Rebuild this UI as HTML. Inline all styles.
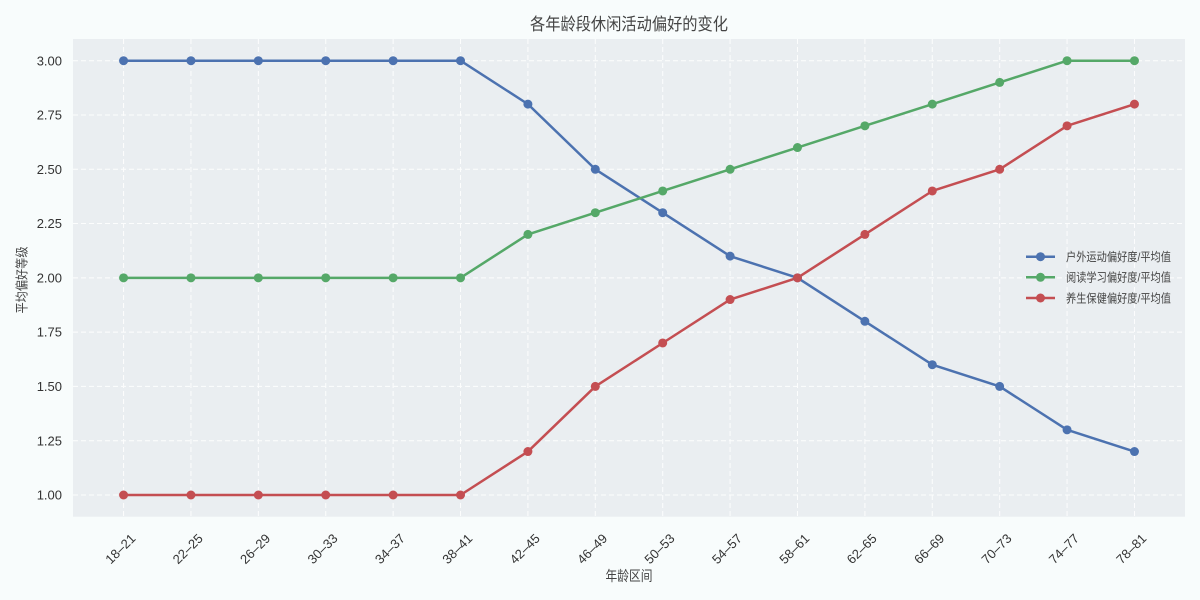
<!DOCTYPE html>
<html>
<head>
<meta charset="utf-8">
<style>
html,body{margin:0;padding:0;background:#f8fcfc;}
svg{display:block;}
text{font-family:"Liberation Sans","Noto Sans CJK SC",sans-serif;}
</style>
</head>
<body>
<svg width="1200" height="600" viewBox="0 0 1200 600" xmlns="http://www.w3.org/2000/svg">
<rect x="0" y="0" width="1200" height="600" fill="#f8fcfc"/>
<rect x="73" y="39" width="1112" height="477.7" fill="#eaeef1"/>
<g stroke="#ffffff" stroke-width="1" stroke-dasharray="5,3" opacity="0.9">
<line x1="73" x2="1185" y1="60.7" y2="60.7"/>
<line x1="73" x2="1185" y1="114.99" y2="114.99"/>
<line x1="73" x2="1185" y1="169.28" y2="169.28"/>
<line x1="73" x2="1185" y1="223.56" y2="223.56"/>
<line x1="73" x2="1185" y1="277.85" y2="277.85"/>
<line x1="73" x2="1185" y1="332.13" y2="332.13"/>
<line x1="73" x2="1185" y1="386.42" y2="386.42"/>
<line x1="73" x2="1185" y1="440.7" y2="440.7"/>
<line x1="73" x2="1185" y1="495" y2="495"/>
<line y1="39" y2="516.7" x1="123.55" x2="123.55"/>
<line y1="39" y2="516.7" x1="190.94" x2="190.94"/>
<line y1="39" y2="516.7" x1="258.34" x2="258.34"/>
<line y1="39" y2="516.7" x1="325.73" x2="325.73"/>
<line y1="39" y2="516.7" x1="393.13" x2="393.13"/>
<line y1="39" y2="516.7" x1="460.52" x2="460.52"/>
<line y1="39" y2="516.7" x1="527.91" x2="527.91"/>
<line y1="39" y2="516.7" x1="595.31" x2="595.31"/>
<line y1="39" y2="516.7" x1="662.7" x2="662.7"/>
<line y1="39" y2="516.7" x1="730.1" x2="730.1"/>
<line y1="39" y2="516.7" x1="797.49" x2="797.49"/>
<line y1="39" y2="516.7" x1="864.88" x2="864.88"/>
<line y1="39" y2="516.7" x1="932.28" x2="932.28"/>
<line y1="39" y2="516.7" x1="999.67" x2="999.67"/>
<line y1="39" y2="516.7" x1="1067.07" x2="1067.07"/>
<line y1="39" y2="516.7" x1="1134.46" x2="1134.46"/>
</g>

<!-- Y tick labels -->
<g font-size="13" fill="#333" text-anchor="end">
<text x="62" y="65.3">3.00</text>
<text x="62" y="119.6">2.75</text>
<text x="62" y="173.9">2.50</text>
<text x="62" y="228.2">2.25</text>
<text x="62" y="282.4">2.00</text>
<text x="62" y="336.7">1.75</text>
<text x="62" y="391">1.50</text>
<text x="62" y="445.3">1.25</text>
<text x="62" y="499.6">1.00</text>
</g>

<!-- X tick labels -->
<g font-size="13" fill="#333" text-anchor="middle">
<text transform="translate(123.55,552) rotate(-45)">18–21</text>
<text transform="translate(190.94,552) rotate(-45)">22–25</text>
<text transform="translate(258.34,552) rotate(-45)">26–29</text>
<text transform="translate(325.73,552) rotate(-45)">30–33</text>
<text transform="translate(393.13,552) rotate(-45)">34–37</text>
<text transform="translate(460.52,552) rotate(-45)">38–41</text>
<text transform="translate(527.91,552) rotate(-45)">42–45</text>
<text transform="translate(595.31,552) rotate(-45)">46–49</text>
<text transform="translate(662.7,552) rotate(-45)">50–53</text>
<text transform="translate(730.1,552) rotate(-45)">54–57</text>
<text transform="translate(797.49,552) rotate(-45)">58–61</text>
<text transform="translate(864.88,552) rotate(-45)">62–65</text>
<text transform="translate(932.28,552) rotate(-45)">66–69</text>
<text transform="translate(999.67,552) rotate(-45)">70–73</text>
<text transform="translate(1067.07,552) rotate(-45)">74–77</text>
<text transform="translate(1134.46,552) rotate(-45)">78–81</text>
</g>

<!-- Series -->
<g fill="none" stroke-width="2.5" stroke-linejoin="round" stroke-linecap="round">
<polyline stroke="#4c72b0" points="123.55,60.7 190.94,60.7 258.34,60.7 325.73,60.7 393.13,60.7 460.52,60.7 527.91,104.13 595.31,169.28 662.7,212.7 730.1,256.13 797.49,277.85 864.88,321.27 932.28,364.7 999.67,386.42 1067.07,429.84 1134.46,451.56"/>
<polyline stroke="#55a868" points="123.55,277.85 190.94,277.85 258.34,277.85 325.73,277.85 393.13,277.85 460.52,277.85 527.91,234.42 595.31,212.7 662.7,190.99 730.1,169.28 797.49,147.56 864.88,125.85 932.28,104.13 999.67,82.42 1067.07,60.7 1134.46,60.7"/>
<polyline stroke="#c44e52" points="123.55,495 190.94,495 258.34,495 325.73,495 393.13,495 460.52,495 527.91,451.56 595.31,386.42 662.7,342.99 730.1,299.56 797.49,277.85 864.88,234.42 932.28,190.99 999.67,169.28 1067.07,125.85 1134.46,104.13"/>
</g>
<g fill="#4c72b0">
<circle cx="123.55" cy="60.7" r="4.5"/><circle cx="190.94" cy="60.7" r="4.5"/><circle cx="258.34" cy="60.7" r="4.5"/><circle cx="325.73" cy="60.7" r="4.5"/><circle cx="393.13" cy="60.7" r="4.5"/><circle cx="460.52" cy="60.7" r="4.5"/><circle cx="527.91" cy="104.13" r="4.5"/><circle cx="595.31" cy="169.28" r="4.5"/><circle cx="662.7" cy="212.7" r="4.5"/><circle cx="730.1" cy="256.13" r="4.5"/><circle cx="797.49" cy="277.85" r="4.5"/><circle cx="864.88" cy="321.27" r="4.5"/><circle cx="932.28" cy="364.7" r="4.5"/><circle cx="999.67" cy="386.42" r="4.5"/><circle cx="1067.07" cy="429.84" r="4.5"/><circle cx="1134.46" cy="451.56" r="4.5"/>
</g>
<g fill="#55a868">
<circle cx="123.55" cy="277.85" r="4.5"/><circle cx="190.94" cy="277.85" r="4.5"/><circle cx="258.34" cy="277.85" r="4.5"/><circle cx="325.73" cy="277.85" r="4.5"/><circle cx="393.13" cy="277.85" r="4.5"/><circle cx="460.52" cy="277.85" r="4.5"/><circle cx="527.91" cy="234.42" r="4.5"/><circle cx="595.31" cy="212.7" r="4.5"/><circle cx="662.7" cy="190.99" r="4.5"/><circle cx="730.1" cy="169.28" r="4.5"/><circle cx="797.49" cy="147.56" r="4.5"/><circle cx="864.88" cy="125.85" r="4.5"/><circle cx="932.28" cy="104.13" r="4.5"/><circle cx="999.67" cy="82.42" r="4.5"/><circle cx="1067.07" cy="60.7" r="4.5"/><circle cx="1134.46" cy="60.7" r="4.5"/>
</g>
<g fill="#c44e52">
<circle cx="123.55" cy="495" r="4.5"/><circle cx="190.94" cy="495" r="4.5"/><circle cx="258.34" cy="495" r="4.5"/><circle cx="325.73" cy="495" r="4.5"/><circle cx="393.13" cy="495" r="4.5"/><circle cx="460.52" cy="495" r="4.5"/><circle cx="527.91" cy="451.56" r="4.5"/><circle cx="595.31" cy="386.42" r="4.5"/><circle cx="662.7" cy="342.99" r="4.5"/><circle cx="730.1" cy="299.56" r="4.5"/><circle cx="797.49" cy="277.85" r="4.5"/><circle cx="864.88" cy="234.42" r="4.5"/><circle cx="932.28" cy="190.99" r="4.5"/><circle cx="999.67" cy="169.28" r="4.5"/><circle cx="1067.07" cy="125.85" r="4.5"/><circle cx="1134.46" cy="104.13" r="4.5"/>
</g>

<!-- Legend -->
<g stroke-width="2.5">
<line x1="1026" x2="1055" y1="256.7" y2="256.7" stroke="#4c72b0"/>
<line x1="1026" x2="1055" y1="277.3" y2="277.3" stroke="#55a868"/>
<line x1="1026" x2="1055" y1="298" y2="298" stroke="#c44e52"/>
</g>
<circle cx="1040.5" cy="256.7" r="4.5" fill="#4c72b0"/>
<circle cx="1040.5" cy="277.3" r="4.5" fill="#55a868"/>
<circle cx="1040.5" cy="298" r="4.5" fill="#c44e52"/>
<g font-size="12" fill="#444">
<text x="1066" y="261" textLength="105" lengthAdjust="spacingAndGlyphs">户外运动偏好度/平均值</text>
<text x="1066" y="281.6" textLength="105" lengthAdjust="spacingAndGlyphs">阅读学习偏好度/平均值</text>
<text x="1066" y="302.3" textLength="105" lengthAdjust="spacingAndGlyphs">养生保健偏好度/平均值</text>
</g>

<!-- Axis labels -->
<text x="629" y="581" font-size="14" fill="#444" text-anchor="middle" textLength="47" lengthAdjust="spacingAndGlyphs">年龄区间</text>
<text transform="translate(26.5,280) rotate(-90)" font-size="13" fill="#444" text-anchor="middle" textLength="67" lengthAdjust="spacingAndGlyphs">平均偏好等级</text>

<!-- Title -->
<text x="629" y="30" font-size="17" fill="#444" text-anchor="middle" textLength="198" lengthAdjust="spacingAndGlyphs">各年龄段休闲活动偏好的变化</text>
</svg>
</body>
</html>
